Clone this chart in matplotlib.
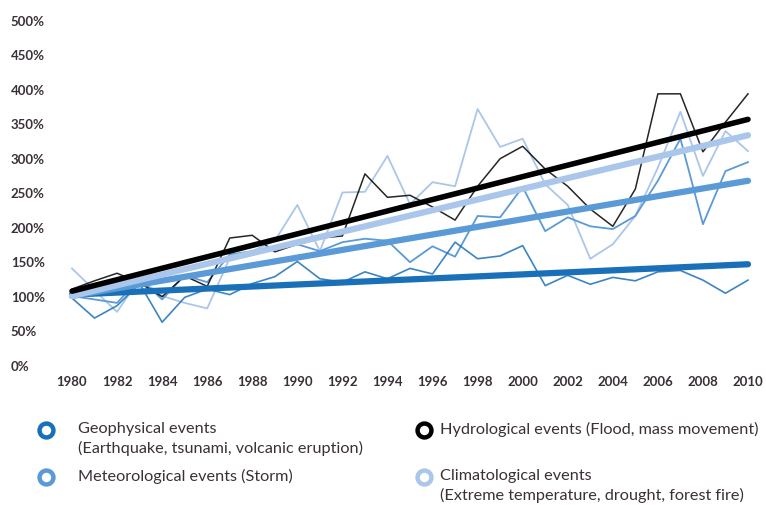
import numpy as np
import matplotlib.pyplot as plt

years = np.arange(1980, 2011)

# percent of 1980 level
geophysical = [97, 68, 86, 118, 62, 98, 110, 102, 118, 128, 150, 125, 120, 135, 125, 140,
               132, 178, 154, 158, 173, 115, 130, 117, 127, 122, 135, 137, 123, 104, 123]
meteorological = [100, 95, 90, 125, 95, 130, 120, 160, 165, 170, 175, 165, 178, 183, 180, 149,
                  172, 157, 216, 214, 258, 194, 214, 201, 197, 216, 267, 328, 204, 281, 294]
hydrological = [110, 122, 133, 119, 99, 129, 114, 184, 188, 164, 175, 184, 187, 277, 243, 246,
                229, 210, 259, 299, 317, 284, 259, 226, 201, 255, 393, 393, 309, 352, 393]
climatological = [140, 108, 77, 125, 100, 90, 82, 155, 165, 180, 232, 165, 250, 251, 303, 233,
                  265, 259, 371, 316, 328, 262, 232, 154, 175, 216, 286, 367, 274, 339, 310]

# trend line values at 1980 and 2010
trend_geo = [102, 146]
trend_met = [100, 267]
trend_hyd = [107, 356]
trend_cli = [100, 333]

yticks = [0, 50, 100, 150, 200, 250, 300, 350, 400, 450, 500]
xticks = list(range(1980, 2011, 2))

c_geo = '#1a70b8'
c_met = '#5a9ad6'
c_hyd = '#000000'
c_cli = '#aac6ea'
txt = '#3a3038'

plt.rcParams['font.family'] = ['Lato', 'DejaVu Sans']

fig = plt.figure(figsize=(7.66, 5.06), dpi=100)
ax = fig.add_axes([72 / 766, 140 / 506, 676 / 766, 345 / 506])

ax.plot(years, climatological, color=c_cli, lw=1.3, zorder=2, clip_on=False)
ax.plot(years, meteorological, color=c_met, lw=1.3, zorder=2, clip_on=False)
ax.plot(years, geophysical, color=c_geo, lw=1.2, alpha=0.85, zorder=2, clip_on=False)
ax.plot(years, hydrological, color=c_hyd, lw=1.1, alpha=0.85, zorder=3, clip_on=False)

ends = [1980, 2010]
ax.plot(ends, trend_geo, color=c_geo, lw=4.5, solid_capstyle='round', zorder=4, clip_on=False)
ax.plot(ends, trend_met, color=c_met, lw=4.5, solid_capstyle='round', zorder=4, clip_on=False)
ax.plot(ends, trend_cli, color=c_cli, lw=4.5, solid_capstyle='round', zorder=4, clip_on=False)
ax.plot(ends, trend_hyd, color=c_hyd, lw=4.0, solid_capstyle='round', zorder=5, clip_on=False)

ax.set_xlim(1980, 2010)
ax.set_ylim(0, 500)
ax.set_yticks(yticks)
ax.set_yticklabels([f'{v}%' for v in yticks])
ax.set_xticks(xticks)
ax.set_xticklabels([str(v) for v in xticks])
for s in ax.spines.values():
    s.set_visible(False)
ax.tick_params(axis='both', length=0, labelsize=9.5, labelcolor=txt)
ax.tick_params(axis='y', pad=44)
ax.tick_params(axis='x', pad=7)
for lab in ax.get_yticklabels():
    lab.set_horizontalalignment('left')
    lab.set_fontweight('bold')
for lab in ax.get_xticklabels():
    lab.set_fontweight('bold')

# legend drawn by hand below the chart
legend_items = [
    (46, 431, c_geo, 78, ['Geophysical events', '(Earthquake, tsunami, volcanic eruption)']),
    (46, 478, c_met, 78, ['Meteorological events (Storm)']),
    (424, 431, c_hyd, 440, ['Hydrological events (Flood, mass movement)']),
    (424, 478, c_cli, 440, ['Climatological events', '(Extreme temperature, drought, forest fire)']),
]
for mx, my, col, tx, lines in legend_items:
    fig.add_artist(plt.Line2D([mx / 766], [1 - my / 506], marker='o', markersize=10,
                              markerfacecolor='white', markeredgecolor=col,
                              markeredgewidth=3.2, transform=fig.transFigure))
    for i, line in enumerate(lines):
        fig.text(tx / 766, 1 - (my - 2 + 19 * i) / 506, line, fontsize=11.7,
                 color=txt, va='center', ha='left')

fig.savefig('out.png', dpi=100)
